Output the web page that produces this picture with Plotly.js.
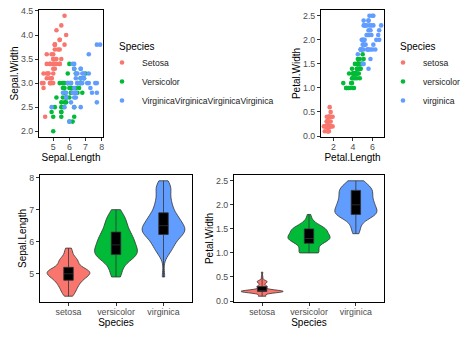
<!DOCTYPE html>
<html><head><meta charset="utf-8">
<script src="https://cdn.plot.ly/plotly-3.0.1.min.js"></script>
<style>html,body{margin:0;padding:0;background:#fff}#chart{width:474px;height:338px}</style>
</head><body><div id="chart"></div>
<script>
const species = ['setosa', 'versicolor', 'virginica'];
const leftLegendLabels = ['Setosa', 'Versicolor', 'VirginicaVirginicaVirginicaVirginica'];
const rightLegendLabels = ['setosa', 'versicolor', 'virginica'];
const legendTitle = 'Species';

const setosaSepalLength = [5.1,4.9,4.7,4.6,5.0,5.4,4.6,5.0,4.4,4.9,5.4,4.8,4.8,4.3,5.8,5.7,5.4,5.1,5.7,5.1,5.4,5.1,4.6,5.1,4.8,5.0,5.0,5.2,5.2,4.7,4.8,5.4,5.2,5.5,4.9,5.0,5.5,4.9,4.4,5.1,5.0,4.5,4.4,5.0,5.1,4.8,5.1,4.6,5.3,5.0];
const setosaSepalWidth = [3.5,3.0,3.2,3.1,3.6,3.9,3.4,3.4,2.9,3.1,3.7,3.4,3.0,3.0,4.0,4.4,3.9,3.5,3.8,3.8,3.4,3.7,3.6,3.3,3.4,3.0,3.4,3.5,3.4,3.2,3.1,3.4,4.1,4.2,3.1,3.2,3.5,3.6,3.0,3.4,3.5,2.3,3.2,3.5,3.8,3.0,3.8,3.2,3.7,3.3];
const setosaPetalLength = [1.4,1.4,1.3,1.5,1.4,1.7,1.4,1.5,1.4,1.5,1.5,1.6,1.4,1.1,1.2,1.5,1.3,1.4,1.7,1.5,1.7,1.5,1.0,1.7,1.9,1.6,1.6,1.5,1.4,1.6,1.6,1.5,1.5,1.4,1.5,1.2,1.3,1.4,1.3,1.5,1.3,1.3,1.3,1.6,1.9,1.4,1.6,1.4,1.5,1.4];
const setosaPetalWidth = [0.2,0.2,0.2,0.2,0.2,0.4,0.3,0.2,0.2,0.1,0.2,0.2,0.1,0.1,0.2,0.4,0.4,0.3,0.3,0.3,0.2,0.4,0.2,0.5,0.2,0.2,0.4,0.2,0.2,0.2,0.2,0.4,0.1,0.2,0.2,0.2,0.2,0.1,0.2,0.2,0.3,0.3,0.2,0.6,0.4,0.3,0.2,0.2,0.2,0.2];

const versicolorSepalLength = [7.0,6.4,6.9,5.5,6.5,5.7,6.3,4.9,6.6,5.2,5.0,5.9,6.0,6.1,5.6,6.7,5.6,5.8,6.2,5.6,5.9,6.1,6.3,6.1,6.4,6.6,6.8,6.7,6.0,5.7,5.5,5.5,5.8,6.0,5.4,6.0,6.7,6.3,5.6,5.5,5.5,6.1,5.8,5.0,5.6,5.7,5.7,6.2,5.1,5.7];
const versicolorSepalWidth = [3.2,3.2,3.1,2.3,2.8,2.8,3.3,2.4,2.9,2.7,2.0,3.0,2.2,2.9,2.9,3.1,3.0,2.7,2.2,2.5,3.2,2.8,2.5,2.8,2.9,3.0,2.8,3.0,2.9,2.6,2.4,2.4,2.7,2.7,3.0,3.4,3.1,2.3,3.0,2.5,2.6,3.0,2.6,2.3,2.7,3.0,2.9,2.9,2.5,2.8];
const versicolorPetalLength = [4.7,4.5,4.9,4.0,4.6,4.5,4.7,3.3,4.6,3.9,3.5,4.2,4.0,4.7,3.6,4.4,4.5,4.1,4.5,3.9,4.8,4.0,4.9,4.7,4.3,4.4,4.8,5.0,4.5,3.5,3.8,3.7,3.9,5.1,4.5,4.5,4.7,4.4,4.1,4.0,4.4,4.6,4.0,3.3,4.2,4.2,4.2,4.3,3.0,4.1];
const versicolorPetalWidth = [1.4,1.5,1.5,1.3,1.5,1.3,1.6,1.0,1.3,1.4,1.0,1.5,1.0,1.4,1.3,1.4,1.5,1.0,1.5,1.1,1.8,1.3,1.5,1.2,1.3,1.4,1.4,1.7,1.5,1.0,1.1,1.0,1.2,1.6,1.5,1.6,1.5,1.3,1.3,1.3,1.2,1.4,1.2,1.0,1.3,1.2,1.3,1.3,1.1,1.3];

const virginicaSepalLength = [6.3,5.8,7.1,6.3,6.5,7.6,4.9,7.3,6.7,7.2,6.5,6.4,6.8,5.7,5.8,6.4,6.5,7.7,7.7,6.0,6.9,5.6,7.7,6.3,6.7,7.2,6.2,6.1,6.4,7.2,7.4,7.9,6.4,6.3,6.1,7.7,6.3,6.4,6.0,6.9,6.7,6.9,5.8,6.8,6.7,6.7,6.3,6.5,6.2,5.9];
const virginicaSepalWidth = [3.3,2.7,3.0,2.9,3.0,3.0,2.5,2.9,2.5,3.6,3.2,2.7,3.0,2.5,2.8,3.2,3.0,3.8,2.6,2.2,3.2,2.8,2.8,2.7,3.3,3.2,2.8,3.0,2.8,3.0,2.8,3.8,2.8,2.8,2.6,3.0,3.4,3.1,3.0,3.1,3.1,3.1,2.7,3.2,3.3,3.0,2.5,3.0,3.4,3.0];
const virginicaPetalLength = [6.0,5.1,5.9,5.6,5.8,6.6,4.5,6.3,5.8,6.1,5.1,5.3,5.5,5.0,5.1,5.3,5.5,6.7,6.9,5.0,5.7,4.9,6.7,4.9,5.7,6.0,4.8,4.9,5.6,5.8,6.1,6.4,5.6,5.1,5.6,6.1,5.6,5.5,4.8,5.4,5.6,5.1,5.1,5.9,5.7,5.2,5.0,5.2,5.4,5.1];
const virginicaPetalWidth = [2.5,1.9,2.1,1.8,2.2,2.1,1.7,1.8,1.8,2.5,2.0,1.9,2.1,2.0,2.4,2.3,1.8,2.2,2.3,1.5,2.3,2.0,2.0,1.8,2.1,1.8,1.8,1.8,2.1,1.6,1.9,2.0,2.2,1.5,1.4,2.3,2.4,1.8,1.8,2.1,2.4,2.3,1.9,2.3,2.5,2.3,1.9,2.0,2.3,1.8];

const sepalLength = [setosaSepalLength, versicolorSepalLength, virginicaSepalLength];
const sepalWidth = [setosaSepalWidth, versicolorSepalWidth, virginicaSepalWidth];
const petalLength = [setosaPetalLength, versicolorPetalLength, virginicaPetalLength];
const petalWidth = [setosaPetalWidth, versicolorPetalWidth, virginicaPetalWidth];

const colors = ['#F8766D', '#00BA38', '#619CFF'];
const W = 474, H = 338;
const FONT = 'Liberation Sans, Arial, Helvetica, sans-serif';

function quantile(arr, p) {
  const s = arr.slice().sort((a, b) => a - b);
  const h = (s.length - 1) * p, lo = Math.floor(h);
  const hi = Math.min(lo + 1, s.length - 1);
  return s[lo] + (h - lo) * (s[hi] - s[lo]);
}
function stdev(arr) {
  const m = arr.reduce((a, b) => a + b, 0) / arr.length;
  return Math.sqrt(arr.reduce((a, b) => a + (b - m) * (b - m), 0) / (arr.length - 1));
}
function nrd0(arr) {
  const lo = Math.min(stdev(arr), (quantile(arr, 0.75) - quantile(arr, 0.25)) / 1.34);
  return 0.9 * lo * Math.pow(arr.length, -0.2);
}

const traces = [];
for (let i = 0; i < 3; i++) {
  traces.push({
    type: 'scatter', mode: 'markers', x: sepalLength[i], y: sepalWidth[i],
    xaxis: 'x', yaxis: 'y', name: leftLegendLabels[i], legend: 'legend',
    marker: {color: colors[i], size: 4.6}, hoverinfo: 'skip'
  });
}
for (let i = 0; i < 3; i++) {
  traces.push({
    type: 'scatter', mode: 'markers', x: petalLength[i], y: petalWidth[i],
    xaxis: 'x2', yaxis: 'y2', name: rightLegendLabels[i], legend: 'legend2',
    marker: {color: colors[i], size: 4.6}, hoverinfo: 'skip'
  });
}
function violinPanel(values, xa, ya, tag) {
  for (let i = 0; i < 3; i++) {
    const v = values[i];
    traces.push({
      type: 'violin', x: v.map(() => species[i]), y: v, xaxis: xa, yaxis: ya,
      name: tag + species[i], scalegroup: tag + i, scalemode: 'width', width: 0.9,
      spanmode: 'hard', bandwidth: nrd0(v), points: false,
      fillcolor: colors[i], line: {color: '#333333', width: 0.8},
      box: {visible: false}, meanline: {visible: false},
      showlegend: false, hoverinfo: 'skip'
    });
  }
  for (let i = 0; i < 3; i++) {
    const v = values[i];
    traces.push({
      type: 'box', x: [species[i]], xaxis: xa, yaxis: ya,
      q1: [quantile(v, 0.25)], median: [quantile(v, 0.5)], q3: [quantile(v, 0.75)],
      lowerfence: [Math.min(...v)], upperfence: [Math.max(...v)],
      width: 0.2, whiskerwidth: 0, boxpoints: false,
      fillcolor: '#000000', line: {color: '#333333', width: 0.8},
      showlegend: false, hoverinfo: 'skip'
    });
  }
}
violinPanel(sepalLength, 'x3', 'y3', 'sl');
violinPanel(petalWidth, 'x4', 'y4', 'pw');

function ax(extra) {
  return Object.assign({
    showline: true, mirror: true, linecolor: '#000', linewidth: 1,
    ticks: 'outside', ticklen: 3, tickwidth: 1, tickcolor: '#333',
    showgrid: false, zeroline: false, fixedrange: true, automargin: false,
    tickfont: {size: 8.8, color: '#4d4d4d', family: FONT}
  }, extra);
}
function t(text, standoff) { return {text: text, font: {size: 10, color: '#000', family: FONT}, standoff: standoff}; }
const yTop = [1 - 137 / H, 1 - 10 / H], yBot = [1 - 302 / H, 1 - 175 / H];

function legendCfg(xpx) {
  return {x: xpx / W, y: 1 - 48 / H, xanchor: 'left', yanchor: 'top', bgcolor: 'rgba(0,0,0,0)',
    borderwidth: 0, font: {size: 8.6, color: '#1a1a1a', family: FONT}};
}
function legendTitleAnn(xpx) {
  return {text: legendTitle, xref: 'paper', yref: 'paper', x: xpx / W, y: 1 - 46 / H,
    xanchor: 'left', yanchor: 'middle', showarrow: false,
    font: {size: 10, color: '#000', family: FONT}};
}

const layout = {
  width: W, height: H, margin: {l: 0, r: 0, t: 0, b: 0},
  paper_bgcolor: '#fff', plot_bgcolor: '#fff',
  font: {family: FONT, color: '#000'},
  violinmode: 'overlay', boxmode: 'overlay',
  xaxis: ax({domain: [39 / W, 103 / W], range: [4.12, 8.08], tickvals: [5, 6, 7, 8], ticklabelstandoff: -2, title: t('Sepal.Length', 1), anchor: 'y'}),
  yaxis: ax({domain: yTop, range: [1.88, 4.52], tickvals: [2, 2.5, 3, 3.5, 4, 4.5], tickformat: '.1f', title: t('Sepal.Width', 0), anchor: 'x'}),
  xaxis2: ax({domain: [321 / W, 384 / W], range: [0.705, 7.195], tickvals: [2, 4, 6], ticklabelstandoff: -2, title: t('Petal.Length', 1), anchor: 'y2'}),
  yaxis2: ax({domain: yTop, range: [-0.02, 2.62], tickvals: [0, 0.5, 1, 1.5, 2, 2.5], tickformat: '.1f', title: t('Petal.Width', 0), anchor: 'x2'}),
  xaxis3: ax({domain: [40 / W, 192 / W], type: 'category', categoryorder: 'array', categoryarray: species, range: [-0.6, 2.6], ticklabelstandoff: -2, title: t('Species', 0), anchor: 'y3'}),
  yaxis3: ax({domain: yBot, range: [4.12, 8.08], tickvals: [5, 6, 7, 8], title: t('Sepal.Length', 0), anchor: 'x3'}),
  xaxis4: ax({domain: [234 / W, 384 / W], type: 'category', categoryorder: 'array', categoryarray: species, range: [-0.6, 2.6], ticklabelstandoff: -2, title: t('Species', 0), anchor: 'y4'}),
  yaxis4: ax({domain: yBot, range: [-0.02, 2.62], tickvals: [0, 0.5, 1, 1.5, 2, 2.5], tickformat: '.1f', title: t('Petal.Width', 0), anchor: 'x4'}),
  legend: legendCfg(102),
  legend2: legendCfg(383),
  annotations: [legendTitleAnn(117), legendTitleAnn(398)]
};

Plotly.newPlot('chart', traces, layout, {displayModeBar: false, staticPlot: true});
</script>
</body></html>
